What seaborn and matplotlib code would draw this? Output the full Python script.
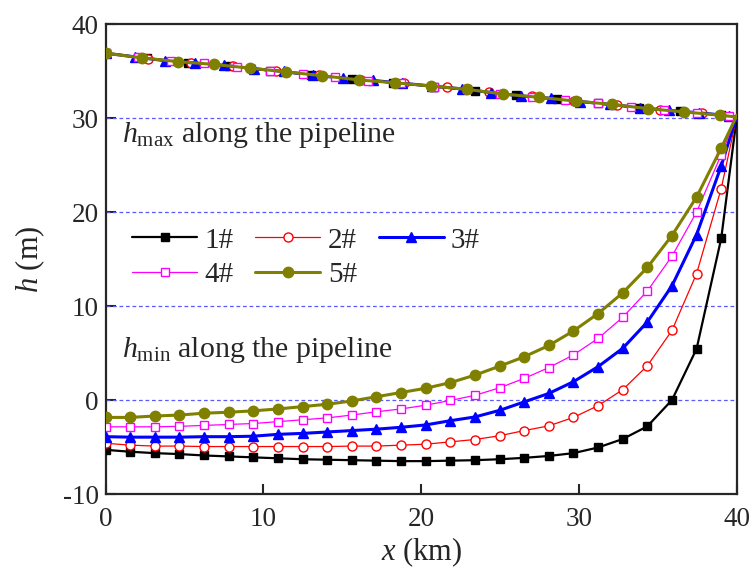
import matplotlib
matplotlib.use("Agg")
import matplotlib.pyplot as plt
import seaborn as sns

# ---- data ----
labels = ["1#", "2#", "3#", "4#", "5#"]
colors = ["#000000", "#ff0000", "#0000ff", "#ff00ff", "#808000"]

# h_min along the pipeline (markers every ~1.56 km, last point = pipeline end)
x_min = [0, 1.56, 3.12, 4.68, 6.24, 7.8, 9.36, 10.92, 12.48, 14.04, 15.6, 17.16, 18.72,
         20.28, 21.84, 23.4, 24.96, 26.52, 28.08, 29.64, 31.2, 32.76, 34.32, 35.88,
         37.44, 39.0, 40.0]
hmin_1 = [-5.3, -5.5, -5.65, -5.75, -5.9, -6.0, -6.1, -6.2, -6.3, -6.35, -6.4, -6.45, -6.5,
          -6.5, -6.45, -6.4, -6.3, -6.15, -5.95, -5.65, -5.05, -4.15, -2.8, 0.0, 5.45, 17.2, 30.3]
hmin_2 = [-4.6, -4.8, -4.9, -4.9, -4.95, -4.95, -4.95, -4.95, -4.95, -4.95, -4.9, -4.9, -4.8,
          -4.7, -4.45, -4.2, -3.8, -3.25, -2.75, -1.85, -0.6, 1.1, 3.65, 7.4, 13.45, 22.5, 30.3]
hmin_3 = [-3.9, -3.95, -3.95, -3.95, -3.9, -3.9, -3.85, -3.65, -3.55, -3.4, -3.25, -3.1, -2.9,
          -2.65, -2.2, -1.8, -1.1, -0.2, 0.7, 1.95, 3.55, 5.5, 8.3, 12.15, 17.6, 24.9, 30.3]
hmin_4 = [-2.85, -2.85, -2.85, -2.8, -2.7, -2.6, -2.5, -2.3, -2.1, -1.9, -1.6, -1.25, -0.95,
          -0.55, -0.05, 0.5, 1.3, 2.3, 3.45, 4.8, 6.55, 8.8, 11.6, 15.3, 20.0, 26.1, 30.3]
hmin_5 = [-1.85, -1.85, -1.7, -1.6, -1.4, -1.3, -1.15, -0.95, -0.7, -0.45, -0.1, 0.35, 0.8,
          1.25, 1.85, 2.65, 3.6, 4.6, 5.8, 7.35, 9.2, 11.4, 14.1, 17.5, 21.6, 26.8, 30.3]

# h_max along the pipeline (each case has its own marker spacing)
x_max_1 = [0, 2.6, 5.2, 7.8, 10.4, 13.0, 15.6, 18.2, 20.8, 23.4, 26.0, 28.6, 31.2, 33.8, 36.4, 39.0, 40.0]
hmax_1 = [36.9, 36.35, 35.9, 35.5, 35.05, 34.6, 34.15, 33.75, 33.35, 32.9, 32.4, 32.0, 31.55,
          31.1, 30.7, 30.3, 30.1]
x_max_2 = [0, 2.7, 5.4, 8.1, 10.8, 13.5, 16.2, 18.9, 21.6, 24.3, 27.0, 29.7, 32.4, 35.1, 37.8, 40.0]
hmax_2 = [36.9, 36.3, 35.9, 35.5, 35.0, 34.55, 34.05, 33.7, 33.25, 32.75, 32.3, 31.8, 31.4,
          30.9, 30.5, 30.1]
x_max_3 = [0, 1.88, 3.76, 5.64, 7.52, 9.4, 11.28, 13.16, 15.04, 16.92, 18.8, 20.68, 22.56,
           24.44, 26.32, 28.2, 30.08, 31.96, 33.84, 35.72, 37.6, 39.48, 40.0]
hmax_3 = [36.9, 36.5, 36.1, 35.85, 35.6, 35.25, 34.95, 34.55, 34.25, 34.0, 33.7, 33.4, 33.1,
          32.7, 32.35, 32.1, 31.75, 31.45, 31.1, 30.8, 30.55, 30.25, 30.1]
x_max_4 = [0, 2.08, 4.16, 6.24, 8.32, 10.4, 12.48, 14.56, 16.64, 18.72, 20.8, 22.88, 24.96,
           27.04, 29.12, 31.2, 33.28, 35.36, 37.44, 39.52, 40.0]
hmax_4 = [36.9, 36.45, 36.05, 35.8, 35.45, 35.05, 34.7, 34.35, 33.95, 33.7, 33.35, 33.05, 32.6,
          32.25, 31.9, 31.55, 31.15, 30.85, 30.55, 30.25, 30.1]
x_max_5 = [0, 2.29, 4.58, 6.87, 9.16, 11.45, 13.74, 16.03, 18.32, 20.61, 22.9, 25.19, 27.48,
           29.77, 32.06, 34.35, 36.64, 38.93, 40.0]
hmax_5 = [36.9, 36.4, 36.0, 35.7, 35.3, 34.9, 34.5, 34.05, 33.75, 33.4, 33.05, 32.55, 32.2,
          31.8, 31.45, 31.0, 30.65, 30.3, 30.1]

hmin_all = [hmin_1, hmin_2, hmin_3, hmin_4, hmin_5]
xmax_all = [x_max_1, x_max_2, x_max_3, x_max_4, x_max_5]
hmax_all = [hmax_1, hmax_2, hmax_3, hmax_4, hmax_5]

# line / marker styles per case
styles = [
    dict(marker="s", markersize=5.5, lw=1.6, mfc="#000000"),
    dict(marker="o", markersize=6.5, lw=0.9, mfc="white"),
    dict(marker="^", markersize=7.5, lw=2.2, mfc="#0000ff"),
    dict(marker="s", markersize=6.3, lw=0.9, mfc="white"),
    dict(marker="o", markersize=7.5, lw=2.2, mfc="#808000"),
]

sns.set_style("ticks")
plt.rcParams['font.family'] = ['Liberation Serif', 'DejaVu Serif']
plt.rcParams['mathtext.fontset'] = 'custom'
plt.rcParams['mathtext.rm'] = 'Liberation Serif'
plt.rcParams['mathtext.it'] = 'Liberation Serif:italic'
plt.rcParams['axes.unicode_minus'] = False

fig = plt.figure(figsize=(7.49, 5.77), dpi=100)
ax = fig.add_axes([0.1409, 0.1438, 0.8431, 0.8146])

# dashed reference lines
for yv in [0, 10, 20, 30]:
    ax.axhline(yv, color="#5a5aff", lw=0.9, ls=(0, (3, 2.2)), zorder=1)

for i in range(5):
    st = styles[i]
    kw = dict(color=colors[i], marker=st["marker"], markersize=st["markersize"],
              linewidth=st["lw"], markerfacecolor=st["mfc"], markeredgecolor=colors[i],
              markeredgewidth=1.0, estimator=None, sort=False, zorder=3 + i)
    # h_max
    sns.lineplot(x=xmax_all[i], y=hmax_all[i], ax=ax, markevery=slice(0, -1), **kw)
    # h_min
    sns.lineplot(x=x_min, y=hmin_all[i], ax=ax, markevery=slice(0, -1), label=labels[i], **kw)

ax.set_xlim(0, 40)
ax.set_ylim(-10, 40)
ax.set_xticks([0, 10, 20, 30, 40])
ax.set_yticks([-10, 0, 10, 20, 30, 40])
ax.tick_params(direction="in", length=7, width=1.5, labelsize=19.5, top=False, right=False)
ax.tick_params(axis="x", pad=9)
ax.tick_params(axis="y", pad=5)
for s in ax.spines.values():
    s.set_linewidth(1.6)

ax.set_xlabel(r"$x$ (km)", fontsize=22, labelpad=3)
ax.set_ylabel(r"$h$ (m)", fontsize=22, labelpad=11)

ax.text(1.05, 27.5, r"$h_{\rm max}$ along the pipeline", fontsize=21.5, va="baseline")
ax.text(1.05, 4.6, r"$h_{\rm min}$ along the pipeline", fontsize=21.5, va="baseline")

handles, labs = ax.get_legend_handles_labels()
order = [0, 3, 1, 4, 2]
ax.legend([handles[j] for j in order], [labs[j] for j in order], ncol=3, frameon=False,
          loc="center left", bbox_to_anchor=(0.042, 0.503), fontsize=21, borderpad=0,
          borderaxespad=0, handlelength=2.23, handletextpad=0.25, columnspacing=0.75,
          labelspacing=0.27)

fig.savefig("out.png", dpi=100)
